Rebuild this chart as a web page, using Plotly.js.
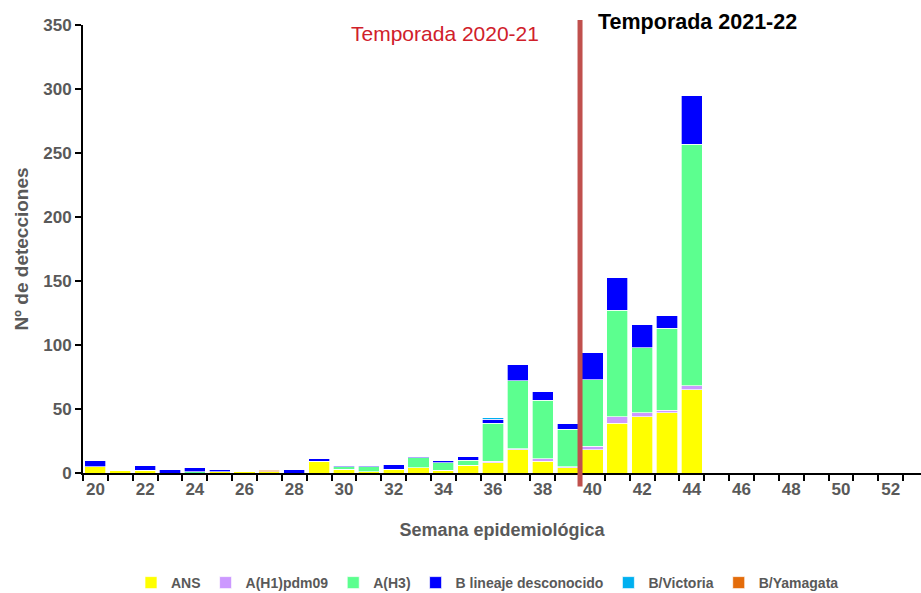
<!DOCTYPE html>
<html>
<head>
<meta charset="utf-8">
<script src="https://cdn.plot.ly/plotly-3.0.1.min.js"></script>
<style>html,body{margin:0;padding:0;background:#fff;}#chart{width:921px;height:593px;}</style>
</head>
<body>
<div id="chart"></div>
<script>
const weeks = [20,21,22,23,24,25,26,27,28,29,30,31,32,33,34,35,36,37,38,39,40,41,42,43,44,45,46,47,48,49,50,51,52];
const ans   = [5,2,2,0,0,1,1,1,0,9,3,1,3,4,2,6,8,18,9,4,18,39,44,47,65,0,0,0,0,0,0,0,0];
const h1    = [0,0,0,0,0,0,0,0,0,0,0,0,0,0,0,0,1,1,2,1,3,5,3,2,3,0,0,0,0,0,0,0,0];
const h3    = [0,0,0,0,1,0,0,0,0,0,2,4,0,8,6,4,30,53,46,29,52,83,51,64,189,0,0,0,0,0,0,0,0];
const bUnk  = [5,0,4,3,3,2,0,0,3,2,1,1,4,1,2,3,3,13,7,5,21,26,18,10,38,0,0,0,0,0,0,0,0];
const bVic  = [0,0,0,0,0,0,0,0,0,0,0,0,0,0,0,0,1,0,0,0,0,0,0,0,0,0,0,0,0,0,0,0,0];
const bYam  = [0,0,0,0,0,0,0,1,0,0,0,0,0,0,0,0,0,0,0,0,0,0,0,0,0,0,0,0,0,0,0,0,0];
const xTicks = [20,22,24,26,28,30,32,34,36,38,40,42,44,46,48,50,52];
const seasonSplit = 39.5;

const FONT = '"Liberation Sans",Arial,sans-serif';
const GREY = '#595959';
const PLOT_W = 838, PLOT_H = 448, L = 83, T = 25;

const series = [
  {name:'ANS', y:ans, color:'#FFFF00'},
  {name:'A(H1)pdm09', y:h1, color:'#CC99FF'},
  {name:'A(H3)', y:h3, color:'#5CFF8F'},
  {name:'B lineaje desconocido', y:bUnk, color:'#0000FF'},
  {name:'B/Victoria', y:bVic, color:'#00B0F0'},
  {name:'B/Yamagata', y:bYam, color:'#E46C0A'}
];

const traces = series.map(s => ({
  type:'bar', x:weeks, y:s.y, name:s.name,
  marker:{color:s.color, line:{color:'rgba(255,255,255,0.85)', width:0.8}},
  hoverinfo:'x+y+name'
}));

const px2x = px => (px - L) / PLOT_W;
const px2y = py => (T + PLOT_H - py) / PLOT_H;

const layout = {
  width:921, height:593,
  margin:{l:L, r:921-L-PLOT_W, t:T, b:593-T-PLOT_H, autoexpand:false},
  paper_bgcolor:'#fff', plot_bgcolor:'#fff',
  barmode:'stack', bargap:0.15,
  showlegend:true,
  legend:{orientation:'h', traceorder:'normal', x:px2x(487.5), xanchor:'center', y:px2y(583), yanchor:'middle',
          font:{family:FONT, size:14, color:GREY, weight:'bold'}, itemwidth:30},
  xaxis:{
    range:[19.5, 53.22], tickmode:'array', tickvals:xTicks, ticktext:xTicks.map(String),
    ticks:'', showgrid:false, zeroline:false,
    showline:true, linecolor:'#000', linewidth:2,
    tickfont:{family:FONT, size:17, color:GREY, weight:'bold'},
    minor:{tick0:19.5, dtick:1, ticks:'outside', ticklen:6, tickwidth:2, tickcolor:'#000', showgrid:false},
    title:{text:'Semana epidemiológica', font:{family:FONT, size:18, color:GREY, weight:'bold'}, standoff:25}
  },
  yaxis:{
    range:[0,350], dtick:50, tick0:0, ticks:'outside', ticklen:6, tickwidth:2, tickcolor:'#000',
    showgrid:false, zeroline:false, showline:true, linecolor:'#000', linewidth:2,
    tickfont:{family:FONT, size:17, color:GREY, weight:'bold'},
    title:{text:'Nº de detecciones', font:{family:FONT, size:19, color:GREY, weight:'bold'}, standoff:10}
  },
  shapes:[{type:'line', xref:'x', yref:'paper', x0:seasonSplit, x1:seasonSplit, y0:-0.03, y1:px2y(20),
           line:{color:'#C0504D', width:5}}],
  annotations:[
    {xref:'paper', yref:'paper', x:px2x(445), y:px2y(33), xanchor:'center', yanchor:'middle',
     text:'Temporada 2020-21', showarrow:false, font:{family:FONT, size:21, color:'#D0202A'}},
    {xref:'paper', yref:'paper', x:px2x(697), y:px2y(22), xanchor:'center', yanchor:'middle',
     text:'Temporada 2021-22', showarrow:false, font:{family:FONT, size:21.5, color:'#000', weight:'bold'}}
  ]
};

Plotly.newPlot('chart', traces, layout, {displayModeBar:false, responsive:false});
</script>
</body>
</html>
